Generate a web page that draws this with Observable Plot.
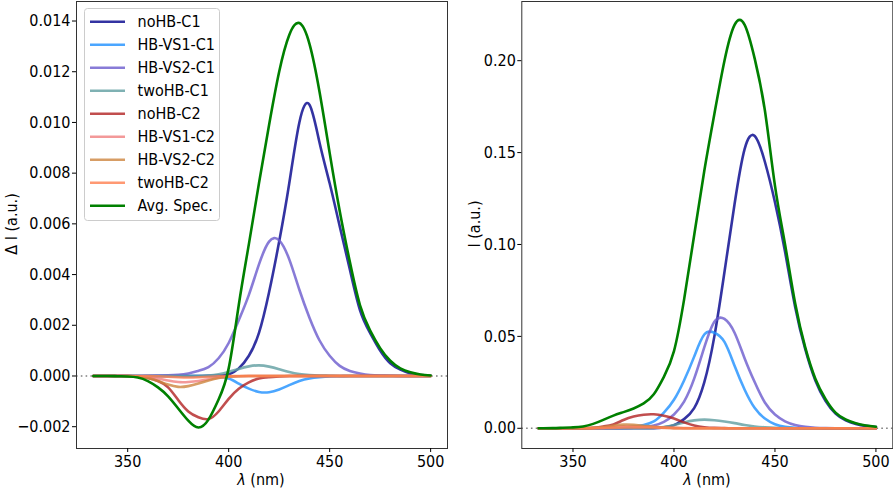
<!DOCTYPE html>
<html><head><meta charset="utf-8">
<script src="https://cdn.jsdelivr.net/npm/d3@7"></script>
<script src="https://cdn.jsdelivr.net/npm/@observablehq/plot@0.6"></script>
<style>
html,body{margin:0;padding:0;background:#fff;}
#fig{position:relative;width:893px;height:492px;overflow:hidden;font-family:"DejaVu Sans Condensed","DejaVu Sans",sans-serif;font-stretch:condensed;color:#000;}
.panel{position:absolute;top:0;}
.lab{position:absolute;font-size:16px;white-space:nowrap;line-height:1;transform:translate(-50%,-50%);}
.rot{transform:translate(-50%,-50%) rotate(-90deg);}
#legend{position:absolute;left:84px;top:8px;}
</style></head><body>
<div id="fig">
  <div id="pL" class="panel" style="left:0"></div>
  <div id="pR" class="panel" style="left:460px"></div>
  <div class="lab rot" style="left:12px;top:224px">Δ I (a.u.)</div>
  <div class="lab rot" style="left:475px;top:224px">I (a.u.)</div>
  <div class="lab" style="left:261px;top:480px"><i>λ</i> (nm)</div>
  <div class="lab" style="left:707px;top:480px"><i>λ</i> (nm)</div>
  <svg id="legend" width="137" height="214"></svg>
</div>
<script>
// wavelength grid (nm)
const lambda_nm = [333,340,345,350,355,360,365,370,375,380,385,390,395,400,405,410,415,420,425,430,435,440,445,450,455,460,465,470,475,480,485,490,495,500];

const seriesNames = ["noHB-C1","HB-VS1-C1","HB-VS2-C1","twoHB-C1","noHB-C2","HB-VS1-C2","HB-VS2-C2","twoHB-C2","Avg. Spec."];
const seriesColors = ["#00008b","#1e90ff","#6a5acd","#5f9ea0","#b22222","#f08080","#cd853f","#ff7f50","#008000"];
const seriesAlpha = [0.8,0.8,0.8,0.8,0.8,0.8,0.8,0.8,1];

// Left panel: Delta I
const dI_noHB_C1   = [0,0,0,0,0,0,0,0,0,0,0,0.00001,0.00002,0.00006,0.0003,0.0008,0.0017,0.0033,0.0053,0.0076,0.0100,0.0107,0.0092,0.0076,0.0059,0.0042,0.0026,0.0017,0.0010,0.0005,0.00025,0.0001,0.00004,0.00001];
const dI_HB_VS1_C1 = [0,0,0,0,0,0,0,0,0,0,0,0,-0.00003,-0.0001,-0.0003,-0.0005,-0.00063,-0.00064,-0.00053,-0.00036,-0.0002,-0.0001,-0.00005,-0.00002,-0.00001,0,0,0,0,0,0,0,0,0];
const dI_HB_VS2_C1 = [0,0,0,0,0,0.00001,0.00002,0.00003,0.00005,0.0001,0.0002,0.00035,0.0007,0.0013,0.0022,0.0032,0.0044,0.0053,0.00535,0.0046,0.0034,0.0023,0.0014,0.0008,0.0004,0.0002,0.0001,0.00004,0.00002,0.00001,0,0,0,0];
const dI_twoHB_C1  = [0,0,0,0,0,0,0,0,0,0,0,0.00002,0.00007,0.00016,0.00028,0.00038,0.00042,0.00037,0.00027,0.00016,0.00008,0.00004,0.00002,0.00001,0,0,0,0,0,0,0,0,0,0];
const dI_noHB_C2   = [0,0,0,0,-0.00002,-0.00008,-0.0002,-0.00045,-0.00095,-0.0014,-0.00163,-0.0017,-0.0014,-0.0009,-0.0005,-0.00025,-0.0001,-0.00005,-0.00002,0,0,0,0,0,0,0,0,0,0,0,0,0,0,0];
const dI_HB_VS1_C2 = [0,0,0,0,-0.00001,-0.00004,-0.0001,-0.00018,-0.00024,-0.00024,-0.0002,-0.00013,-0.00007,-0.00003,-0.00001,0,0,0,0,0,0,0,0,0,0,0,0,0,0,0,0,0,0,0];
const dI_HB_VS2_C2 = [0,0,0,0,-0.00002,-0.00008,-0.0002,-0.00034,-0.00043,-0.0004,-0.0003,-0.00018,-0.00008,-0.00003,-0.00001,0,0,0,0,0,0,0,0,0,0,0,0,0,0,0,0,0,0,0];
const dI_twoHB_C2  = [0,0,0,0,0,0,-0.00001,-0.00003,-0.00005,-0.00006,-0.00005,-0.00003,-0.00001,0,0,0,0,0,0,0,0,0,0,0,0,0,0,0,0,0,0,0,0,0];
const dI_avg       = [0,0,-0.00001,-0.00002,-0.00006,-0.0002,-0.00045,-0.0008,-0.00128,-0.00176,-0.00203,-0.00172,-0.00093,0.0003,0.0028,0.0052,0.0076,0.0099,0.0120,0.01345,0.01392,0.0131,0.0112,0.0088,0.0065,0.0045,0.0028,0.0018,0.0011,0.0006,0.0003,0.00015,0.00006,0.00002];

// Right panel: I
const I_noHB_C1   = [0,0,0,0,0,0,0,0,0,0,0,0.0001,0.0005,0.0017,0.005,0.011,0.025,0.05,0.085,0.122,0.152,0.159,0.145,0.123,0.096,0.066,0.043,0.026,0.015,0.008,0.0043,0.0024,0.0013,0.0007];
const I_HB_VS1_C1 = [0,0,0,0,0,0,0,0.0001,0.0003,0.0008,0.0018,0.0037,0.0085,0.0155,0.026,0.039,0.051,0.052,0.047,0.034,0.021,0.011,0.0053,0.0022,0.0008,0.0003,0.0001,0,0,0,0,0,0,0];
const I_HB_VS2_C1 = [0,0,0,0,0,0,0,0,0.0001,0.0003,0.0006,0.0015,0.0035,0.0075,0.0145,0.027,0.044,0.058,0.0595,0.052,0.038,0.025,0.014,0.0075,0.0038,0.0018,0.0008,0.0003,0.0001,0,0,0,0,0];
const I_twoHB_C1  = [0,0,0,0,0,0,0,0,0,0,0,0.0002,0.0007,0.0018,0.0032,0.0043,0.0047,0.0044,0.0037,0.0028,0.0018,0.001,0.0005,0.0002,0.0001,0,0,0,0,0,0,0,0,0];
const I_noHB_C2   = [0,0,0,0,0.00005,0.0003,0.001,0.0021,0.0045,0.0064,0.0074,0.0076,0.0068,0.0053,0.0032,0.0015,0.0006,0.0002,0.0001,0,0,0,0,0,0,0,0,0,0,0,0,0,0,0];
const I_HB_VS1_C2 = [0,0,0,0,0.00003,0.0001,0.0004,0.0008,0.0011,0.0012,0.001,0.0007,0.0004,0.0002,0.0001,0,0,0,0,0,0,0,0,0,0,0,0,0,0,0,0,0,0,0];
const I_HB_VS2_C2 = [0,0,0,0,0.00005,0.0002,0.0007,0.0014,0.002,0.0019,0.0014,0.0008,0.0004,0.0001,0.00003,0,0,0,0,0,0,0,0,0,0,0,0,0,0,0,0,0,0,0];
const I_twoHB_C2  = [0,0,0,0,0,0,0.0001,0.0002,0.0004,0.0005,0.0005,0.0004,0.0002,0.0001,0,0,0,0,0,0,0,0,0,0,0,0,0,0,0,0,0,0,0,0];
const I_avg       = [0,0.0001,0.0003,0.0005,0.001,0.0024,0.0046,0.0069,0.0088,0.0108,0.0135,0.0185,0.028,0.042,0.07,0.105,0.14,0.171,0.2,0.2195,0.2195,0.201,0.173,0.132,0.1,0.068,0.044,0.027,0.016,0.0085,0.0048,0.0027,0.0015,0.0008];

const xTicks = [350,400,450,500];
const dITicks = [-0.002,0,0.002,0.004,0.006,0.008,0.010,0.012,0.014];
const ITicks = [0,0.05,0.10,0.15,0.20];

const leftSeries  = [dI_noHB_C1,dI_HB_VS1_C1,dI_HB_VS2_C1,dI_twoHB_C1,dI_noHB_C2,dI_HB_VS1_C2,dI_HB_VS2_C2,dI_twoHB_C2,dI_avg];
const rightSeries = [I_noHB_C1,I_HB_VS1_C1,I_HB_VS2_C1,I_twoHB_C1,I_noHB_C2,I_HB_VS1_C2,I_HB_VS2_C2,I_twoHB_C2,I_avg];

const FONT = '"DejaVu Sans Condensed","DejaVu Sans",sans-serif';

function rows(arr){ return lambda_nm.map((x,j)=>({x, y: arr[j]})); }

function panel(series, yDomain, yTicks, fmt, width, ml, mr){
  const lines = series.map((arr,i)=>Plot.line(rows(arr), {
    x:"x", y:"y", stroke: seriesColors[i], strokeOpacity: seriesAlpha[i],
    strokeWidth: 2.6, curve: "natural"
  }));
  return Plot.plot({
    width, height: 492,
    marginLeft: ml, marginRight: mr, marginTop: 1, marginBottom: 44,
    style: {fontFamily: FONT, fontSize: "16px", color: "#000", background: "transparent", fontStretch: "condensed"},
    x: {domain: [324.65, 508.35]},
    y: {domain: yDomain},
    marks: [
      Plot.ruleY([0], {stroke: "#808080", strokeWidth: 1.6, strokeDasharray: "1.6,3.2"}),
      ...lines,
      Plot.frame({stroke: "#333", strokeWidth: 1}),
      Plot.axisX({ticks: xTicks, tickFormat: d=>String(d), tickSize: 4, tickPadding: 3, label: null, fontSize: 16}),
      Plot.axisY({ticks: yTicks, tickFormat: fmt, tickSize: 4, tickPadding: 2, label: null, fontSize: 16})
    ]
  });
}

document.getElementById("pL").append(panel(leftSeries, [-0.00286, 0.01477], dITicks, d3.format(".3f"), 460, 76, 13));
document.getElementById("pR").append(panel(rightSeries, [-0.0110, 0.2322], ITicks, d3.format(".2f"), 433, 61.3, 0.7));

// legend
const lg = d3.select("#legend");
lg.append("rect").attr("x",0.5).attr("y",0.5).attr("width",135).attr("height",212).attr("rx",3)
  .attr("fill","#fff").attr("fill-opacity",0.8).attr("stroke","#cccccc");
seriesNames.forEach((name,i)=>{
  const cy = 13.7 + 23*i;
  lg.append("line").attr("x1",6).attr("x2",41).attr("y1",cy).attr("y2",cy)
    .attr("stroke",seriesColors[i]).attr("stroke-opacity",seriesAlpha[i]).attr("stroke-width",2.6);
  lg.append("text").attr("x",53.5).attr("y",cy).attr("dy","0.36em")
    .style("font-family",FONT).style("font-stretch","condensed").style("font-size","16px").attr("fill","#000").text(name);
});
</script>
</body></html>
